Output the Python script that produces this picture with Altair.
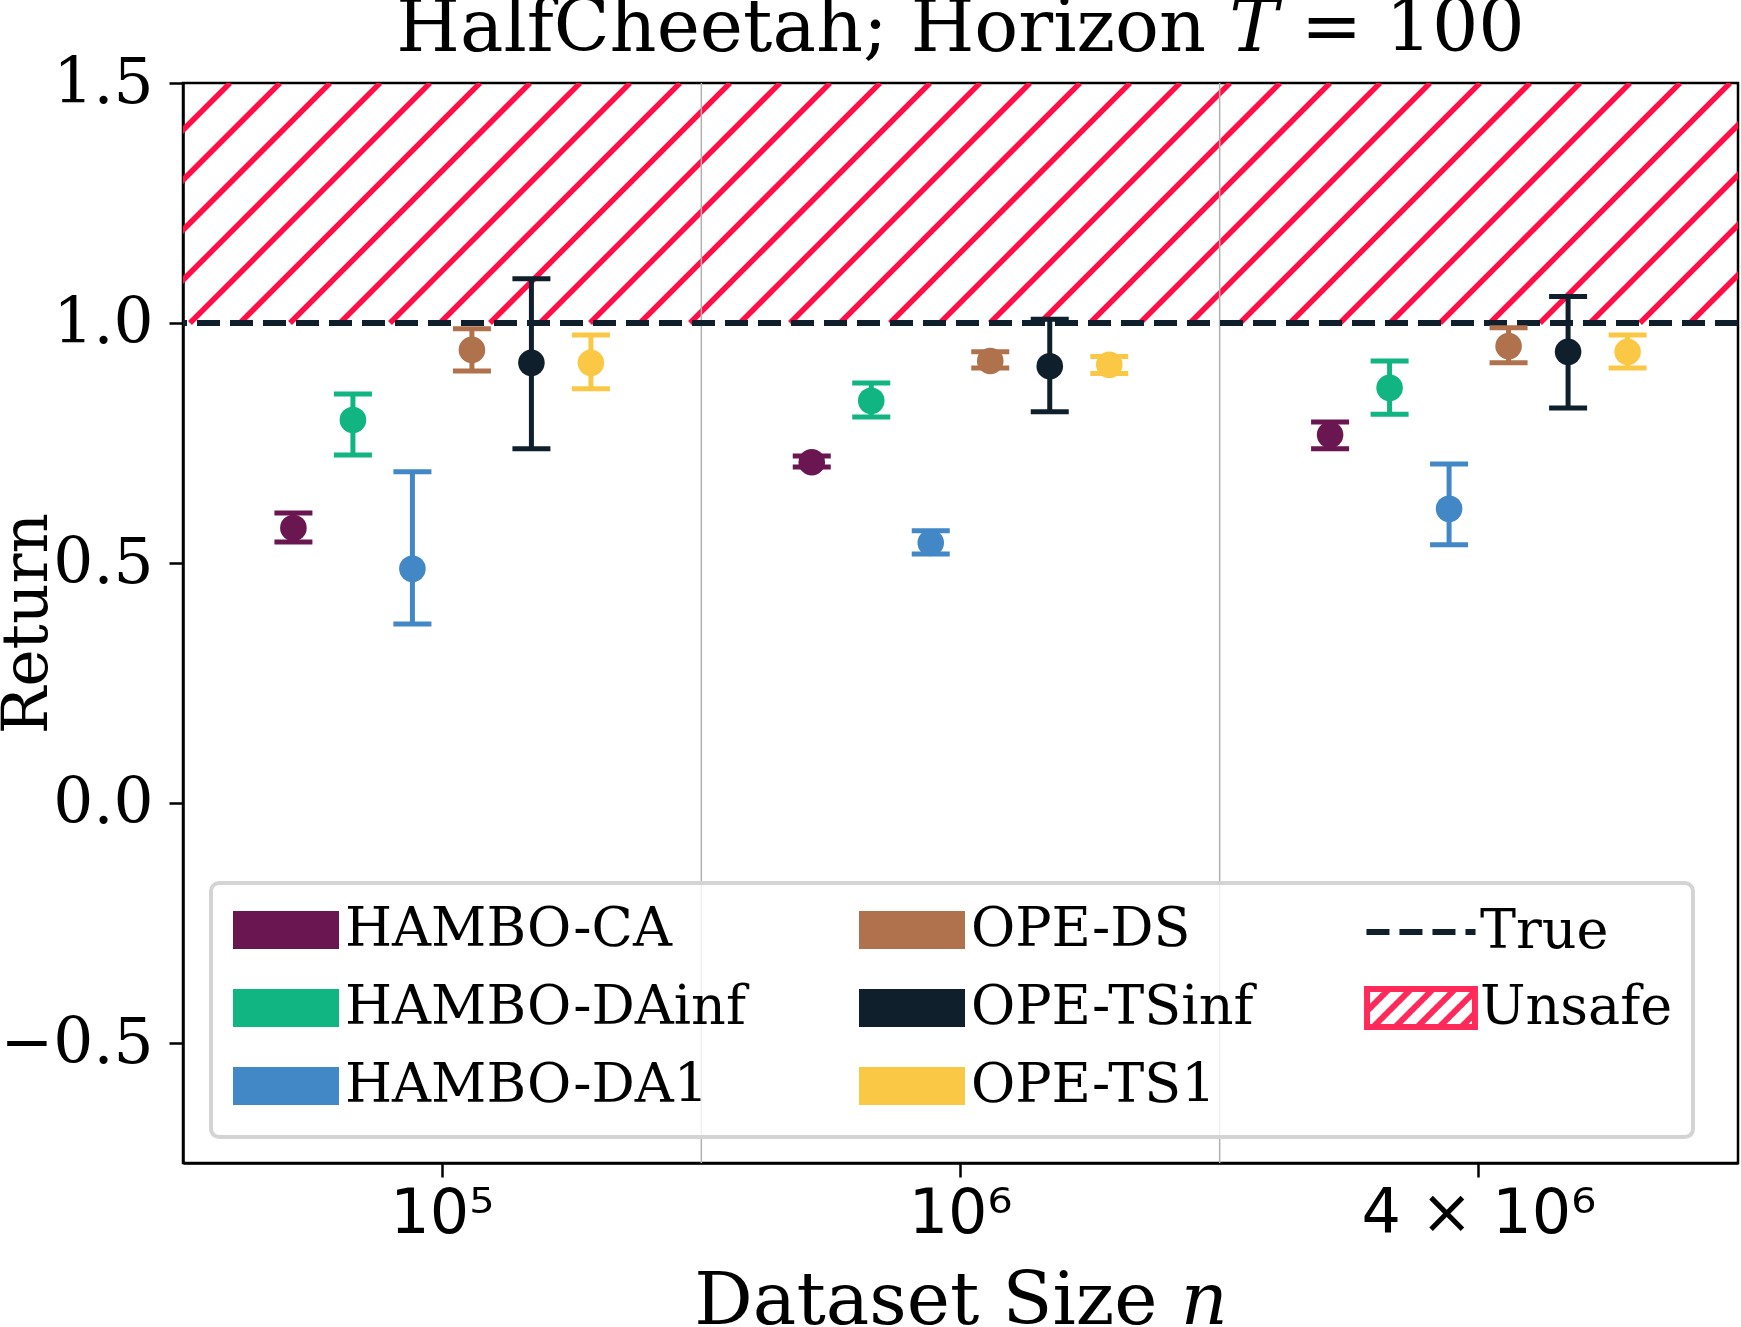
import altair as alt
import numpy as np
import pandas as pd

# ---------------------------------------------------------------- data
categories = ["10⁵", "10⁶", "4 × 10⁶"]
methods = ["HAMBO-CA", "HAMBO-DAinf", "HAMBO-DA1", "OPE-DS", "OPE-TSinf", "OPE-TS1"]
method_colors = ["#6a1650", "#10b582", "#4287c6", "#b0714d", "#0f1f2c", "#fbc846"]

# mean return, lower and upper end of the error bar, per dataset size
mean_1e5 = [0.573, 0.798, 0.488, 0.944, 0.917, 0.917]
low_1e5 = [0.544, 0.725, 0.373, 0.900, 0.738, 0.863]
high_1e5 = [0.604, 0.852, 0.690, 0.988, 1.092, 0.975]

mean_1e6 = [0.710, 0.838, 0.542, 0.921, 0.910, 0.913]
low_1e6 = [0.700, 0.804, 0.519, 0.906, 0.815, 0.895]
high_1e6 = [0.723, 0.875, 0.567, 0.940, 1.008, 0.930]

mean_4e6 = [0.767, 0.865, 0.613, 0.952, 0.940, 0.940]
low_4e6 = [0.738, 0.810, 0.538, 0.917, 0.823, 0.906]
high_4e6 = [0.794, 0.921, 0.706, 0.990, 1.055, 0.975]

true_return = 1.0
unsafe_top = 1.5
y_domain = [-0.75, 1.5]
y_ticks = [-0.5, 0.0, 0.5, 1.0, 1.5]

rows = []
for cat, means, lows, highs in zip(
    categories,
    [mean_1e5, mean_1e6, mean_4e6],
    [low_1e5, low_1e6, low_4e6],
    [high_1e5, high_1e6, high_4e6],
):
    for m, mu, lo, hi in zip(methods, means, lows, highs):
        rows.append({"n": cat, "method": m, "mean": mu, "low": lo, "high": hi})
df = pd.DataFrame(rows)

# ---------------------------------------------------------------- layout
W, H = 1555, 1080
BAND = W / len(categories)
OFFSET_STEP = 59.5          # px between neighbouring methods inside a group
NAVY = "#0f1f2c"
HATCH_RED = "#ff0f45"
SERIF = "DejaVu Serif"
SANS = "DejaVu Sans"

# hatch lines at 45 degrees across the unsafe band, drawn in pixel units on x
rise_px = (unsafe_top - true_return) / (y_domain[1] - y_domain[0]) * H
hatch_starts = np.arange(-193, W, 50.0)
hatch = pd.DataFrame({
    "hx0": hatch_starts,
    "hx1": hatch_starts + rise_px,
    "hy0": true_return,
    "hy1": unsafe_top,
})

# legend entries fill the three columns top to bottom
legend_order = methods + ["True", "Unsafe"]
legend_fill = dict(zip(methods, method_colors))
legend_fill["True"] = "transparent"
legend_fill["Unsafe"] = "white"

K = 19.0  # symbol unit in px (sqrt(symbolSize) / 2)
rect_path = "M-2.79,-1H2.79V1H-2.79Z"
line_path = "M-2.87,0H2.87"


def hatch_path(half_w=2.84, half_h=1.0, step=1.16):
    parts = [f"M{-half_w},{-half_h}H{half_w}V{half_h}H{-half_w}Z"]
    c = -half_w - 2 * half_h
    while c < half_w:
        # segment from (c, half_h) to (c + 2*half_h, -half_h), clipped to the box
        x0, y0 = c, half_h
        x1, y1 = c + 2 * half_h, -half_h
        if x0 < -half_w:
            y0 = half_h - (-half_w - x0)
            x0 = -half_w
        if x1 > half_w:
            y1 = -half_h + (x1 - half_w)
            x1 = half_w
        if x1 > x0:
            parts.append(f"M{x0:.3f},{y0:.3f}L{x1:.3f},{y1:.3f}")
        c += step
    return "".join(parts)


unsafe_path = hatch_path()
shape_expr = (
    f"datum.value === 'True' ? '{line_path}' : "
    f"(datum.value === 'Unsafe' ? '{unsafe_path}' : '{rect_path}')"
)
stroke_expr = (
    f"datum.value === 'True' ? '{NAVY}' : "
    f"(datum.value === 'Unsafe' ? '#ff2a5a' : 'transparent')"
)
dash_expr = "datum.value === 'True' ? [23, 10] : [1, 0]"

color_scale = alt.Scale(domain=legend_order, range=[legend_fill[k] for k in legend_order])
method_scale = alt.Scale(domain=methods, range=method_colors)
x_scale = alt.Scale(domain=categories, paddingInner=0, paddingOuter=0)
offset_scale = alt.Scale(
    type="point", domain=methods, padding=0,
    range=[BAND / 2 - 2.5 * OFFSET_STEP, BAND / 2 + 2.5 * OFFSET_STEP],
)
y_scale = alt.Scale(domain=y_domain, nice=False, zero=False)

legend = alt.Legend(
    title=None,
    orient="none",
    legendX=28,
    legendY=800,
    columns=3,
    symbolType={"expr": shape_expr},
    symbolStrokeColor={"expr": stroke_expr},
    symbolDash={"expr": dash_expr},
    symbolSize=(2 * K) ** 2,
    symbolStrokeWidth=6,
    symbolOpacity=1,
    symbolOffset=28,
    labelOffset=32,
    columnPadding=100,
    rowPadding=16,
    labelFont=SERIF,
    labelFontSize=54,
    labelColor="black",
    labelLimit=1000,
    padding=20,
    fillColor="rgba(255,255,255,0.8)",
    strokeColor="#d4d4d4",
    cornerRadius=8,
)

base = alt.Chart(df)

x_main = alt.X(
    "n:N",
    scale=x_scale,
    sort=categories,
    axis=alt.Axis(
        title="Dataset Size 𝑛",
        labelAngle=0,
        labelAlign="center",
        labelBaseline="top",
        labelFont=SANS,
        labelFontSize=62,
        labelColor="black",
        labelPadding=6,
        labelLimit=1000,
        tickSize=14,
        tickWidth=2.5,
        tickColor="black",
        domainColor="black",
        domainWidth=2.5,
        titleFont=SERIF,
        titleFontSize=73,
        titleFontWeight="normal",
        titleColor="black",
        titleX=W / 2,
        titleY=160,
        titleBaseline="alphabetic",
        grid=False,
    ),
)
y_main = alt.Y(
    "mean:Q",
    scale=y_scale,
    axis=alt.Axis(
        title="Return",
        values=y_ticks,
        format=".1f",
        labelFont=SERIF,
        labelFontSize=63,
        labelColor="black",
        labelPadding=16,
        tickSize=14,
        tickWidth=2.5,
        tickColor="black",
        domainColor="black",
        domainWidth=2.5,
        grid=False,
        titleFont=SERIF,
        titleFontSize=63,
        titleFontWeight="normal",
        titleColor="black",
        titleAngle=270,
        titleX=-137,
        titleY=H / 2,
        titleAlign="center",
        titleBaseline="alphabetic",
    ),
)
# layers sharing the main scales leave their axes unspecified so that the
# settings above are the ones that end up on the merged axes
x_plain = alt.X("n:N", scale=x_scale, sort=categories)
x_offset = alt.XOffset("method:N", scale=offset_scale, sort=methods)

# vertical separators between the dataset-size groups
separators = alt.Chart(pd.DataFrame({"n": categories[1:]})).mark_rule(
    color="#b0b0b0", strokeWidth=1.5
).encode(x=alt.X("n:N", scale=x_scale, sort=categories, bandPosition=0))

true_line = alt.Chart(pd.DataFrame({"v": [true_return]})).mark_rule(
    color=NAVY, strokeWidth=6.2, strokeDash=[23, 10]
).encode(y=alt.Y("v:Q", scale=y_scale))

bars = base.mark_rule(strokeWidth=5).encode(
    x=x_plain, xOffset=x_offset,
    y=alt.Y("low:Q", scale=y_scale), y2="high:Q",
    stroke=alt.Stroke("method:N", scale=method_scale, legend=None),
)
caps_low = base.mark_tick(thickness=5, size=38, opacity=1).encode(
    x=x_plain, xOffset=x_offset,
    y=alt.Y("low:Q", scale=y_scale),
    fill=alt.Fill("method:N", scale=method_scale, legend=None),
)
caps_high = base.mark_tick(thickness=5, size=38, opacity=1).encode(
    x=x_plain, xOffset=x_offset,
    y=alt.Y("high:Q", scale=y_scale),
    fill=alt.Fill("method:N", scale=method_scale, legend=None),
)
points = base.mark_circle(size=707, opacity=1).encode(
    x=x_main, xOffset=x_offset, y=y_main,
    color=alt.Color("method:N", scale=color_scale, legend=legend),
)

hatch_layer = alt.Chart(hatch).mark_rule(
    color=HATCH_RED, strokeWidth=5.5, clip=True
).encode(
    x=alt.X("hx0:Q", scale=alt.Scale(domain=[0, W], nice=False, zero=False), axis=None),
    x2="hx1:Q",
    y=alt.Y("hy0:Q", scale=y_scale),
    y2="hy1:Q",
)

main = alt.layer(separators, true_line, bars, caps_low, caps_high, points)

chart = (
    alt.layer(hatch_layer, main)
    .resolve_scale(x="independent")
    .properties(
        width=W,
        height=H,
        autosize=alt.AutoSizeParams(type="none"),
        padding={"left": 183, "top": 83, "right": 3, "bottom": 164},
        background="white",
        title=alt.TitleParams(
            "HalfCheetah; Horizon 𝑇 = 100",
            font=SERIF,
            fontSize=73,
            fontWeight="normal",
            color="black",
            anchor="middle",
            offset=-14,
        ),
    )
    .configure_view(stroke="black", strokeWidth=2.5)
    .configure_axisX(labelAngle=0)
    .configure_legend(strokeWidth=4)
)

chart.save("out.html", embed_options={"renderer": "svg", "actions": False})
